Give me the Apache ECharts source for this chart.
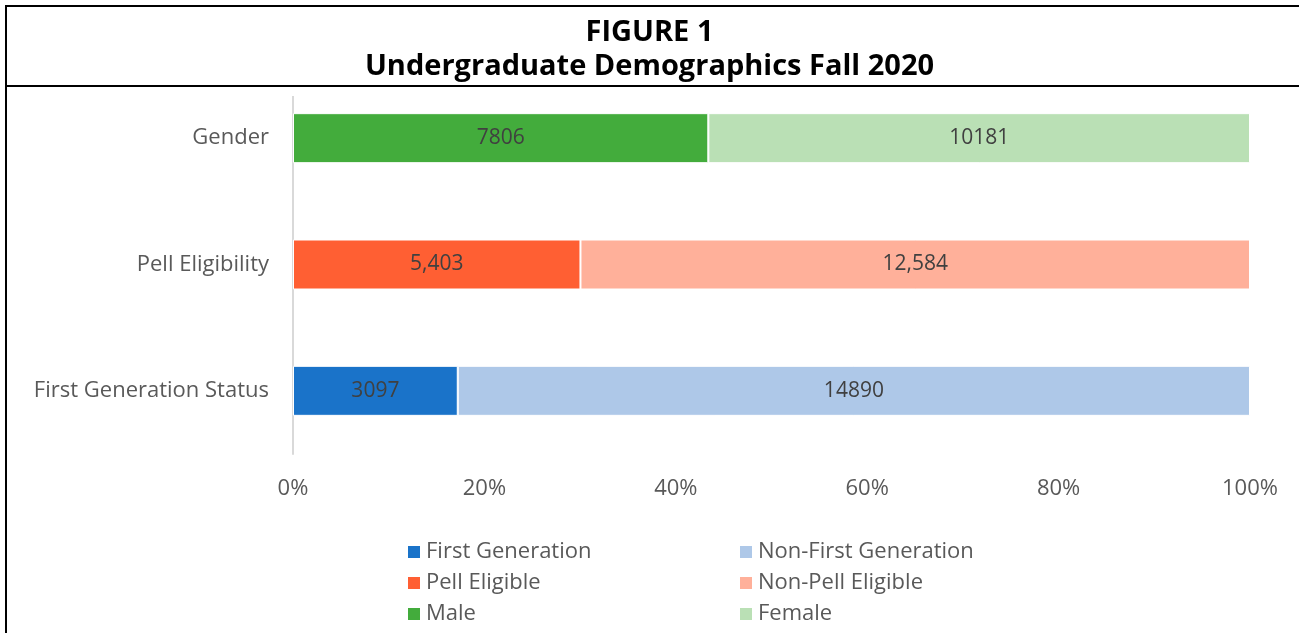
<!DOCTYPE html>
<html>
<head>
<meta charset="utf-8">
<script src="https://cdn.jsdelivr.net/npm/echarts@6/dist/echarts.min.js"></script>
<style>
  html, body { margin: 0; padding: 0; background: #fff; }
  #chart { width: 1299px; height: 633px; }
</style>
</head>
<body>
<div id="chart"></div>
<script>
// categories, bottom to top
var categories = ['First Generation Status', 'Pell Eligibility', 'Gender'];
var seriesNames = ['First Generation', 'Non-First Generation', 'Pell Eligible', 'Non-Pell Eligible', 'Male', 'Female'];
// which category each series belongs to
var seriesCategory = [0, 0, 1, 1, 2, 2];
var seriesCounts = [3097, 14890, 5403, 12584, 7806, 10181];
var seriesLabels = ['3097', '14890', '5,403', '12,584', '7806', '10181'];
var seriesColors = ['#1a73c9', '#aec8e8', '#ff5f33', '#ffb09a', '#43ac3c', '#bae0b5'];
var tickLabels = ['0%', '20%', '40%', '60%', '80%', '100%'];

var font = '"Open Sans", sans-serif';

var totals = [0, 0, 0];
seriesCounts.forEach(function (v, i) { totals[seriesCategory[i]] += v; });

var series = seriesNames.map(function (name, i) {
    var data = categories.map(function (c, ci) {
        if (ci !== seriesCategory[i]) return null;
        return { value: seriesCounts[i] / totals[ci] * 100, label: { formatter: seriesLabels[i] } };
    });
    return {
        name: name,
        type: 'bar',
        stack: 'total',
        barWidth: 50,
        data: data,
        itemStyle: { color: seriesColors[i], borderColor: '#fff', borderWidth: 1 },
        label: {
            show: true,
            position: 'inside',
            color: '#404040',
            fontFamily: font,
            fontSize: 21
        }
    };
});

var myChart = echarts.init(document.getElementById('chart'));
var option = {
    animation: false,
    grid: { left: 293, right: 49, top: 75, bottom: 179, containLabel: false },
    xAxis: {
        type: 'value',
        min: 0, max: 100, interval: 20,
        axisLine: { show: false },
        axisTick: { show: false },
        splitLine: { show: false },
        axisLabel: {
            margin: 24,
            color: '#595959',
            fontFamily: font,
            fontSize: 22,
            formatter: function (v) { return tickLabels[v / 20]; }
        }
    },
    yAxis: {
        type: 'category',
        data: categories,
        axisLine: { show: true, lineStyle: { color: '#d9d9d9', width: 2 } },
        axisTick: { show: false },
        axisLabel: {
            margin: 24,
            color: '#595959',
            fontFamily: font,
            fontSize: 22
        }
    },
    legend: [{
        orient: 'vertical',
        left: 401, top: 536,
        itemWidth: 14, itemHeight: 14, itemGap: 9,
        icon: 'rect',
        data: ['First Generation', 'Pell Eligible', 'Male'],
        textStyle: { color: '#595959', fontFamily: font, fontSize: 22 }
    }, {
        orient: 'vertical',
        left: 733, top: 536,
        itemWidth: 14, itemHeight: 14, itemGap: 9,
        icon: 'rect',
        data: ['Non-First Generation', 'Non-Pell Eligible', 'Female'],
        textStyle: { color: '#595959', fontFamily: font, fontSize: 22 }
    }],
    title: [{
        text: 'FIGURE 1',
        left: 'center', top: 13,
        textStyle: { fontFamily: font, fontWeight: 'bold', fontSize: 29, color: '#000' }
    }, {
        text: 'Undergraduate Demographics Fall 2020',
        left: 'center', top: 47,
        textStyle: { fontFamily: font, fontWeight: 'bold', fontSize: 29, color: '#000' }
    }],
    graphic: [
        // keep the category axis line out of the title box
        { type: 'rect', z: 100, shape: { x: 285, y: 7, width: 16, height: 89 }, style: { fill: '#fff' } },
        { type: 'line', z: 101, shape: { x1: 6, y1: 6, x2: 1299, y2: 6 }, style: { stroke: '#000', lineWidth: 2 } },
        { type: 'line', z: 101, shape: { x1: 6, y1: 5, x2: 6, y2: 633 }, style: { stroke: '#000', lineWidth: 2 } },
        { type: 'line', z: 101, shape: { x1: 6, y1: 86, x2: 1299, y2: 86 }, style: { stroke: '#000', lineWidth: 2 } }
    ],
    series: series
};
myChart.setOption(option);
</script>
</body>
</html>
